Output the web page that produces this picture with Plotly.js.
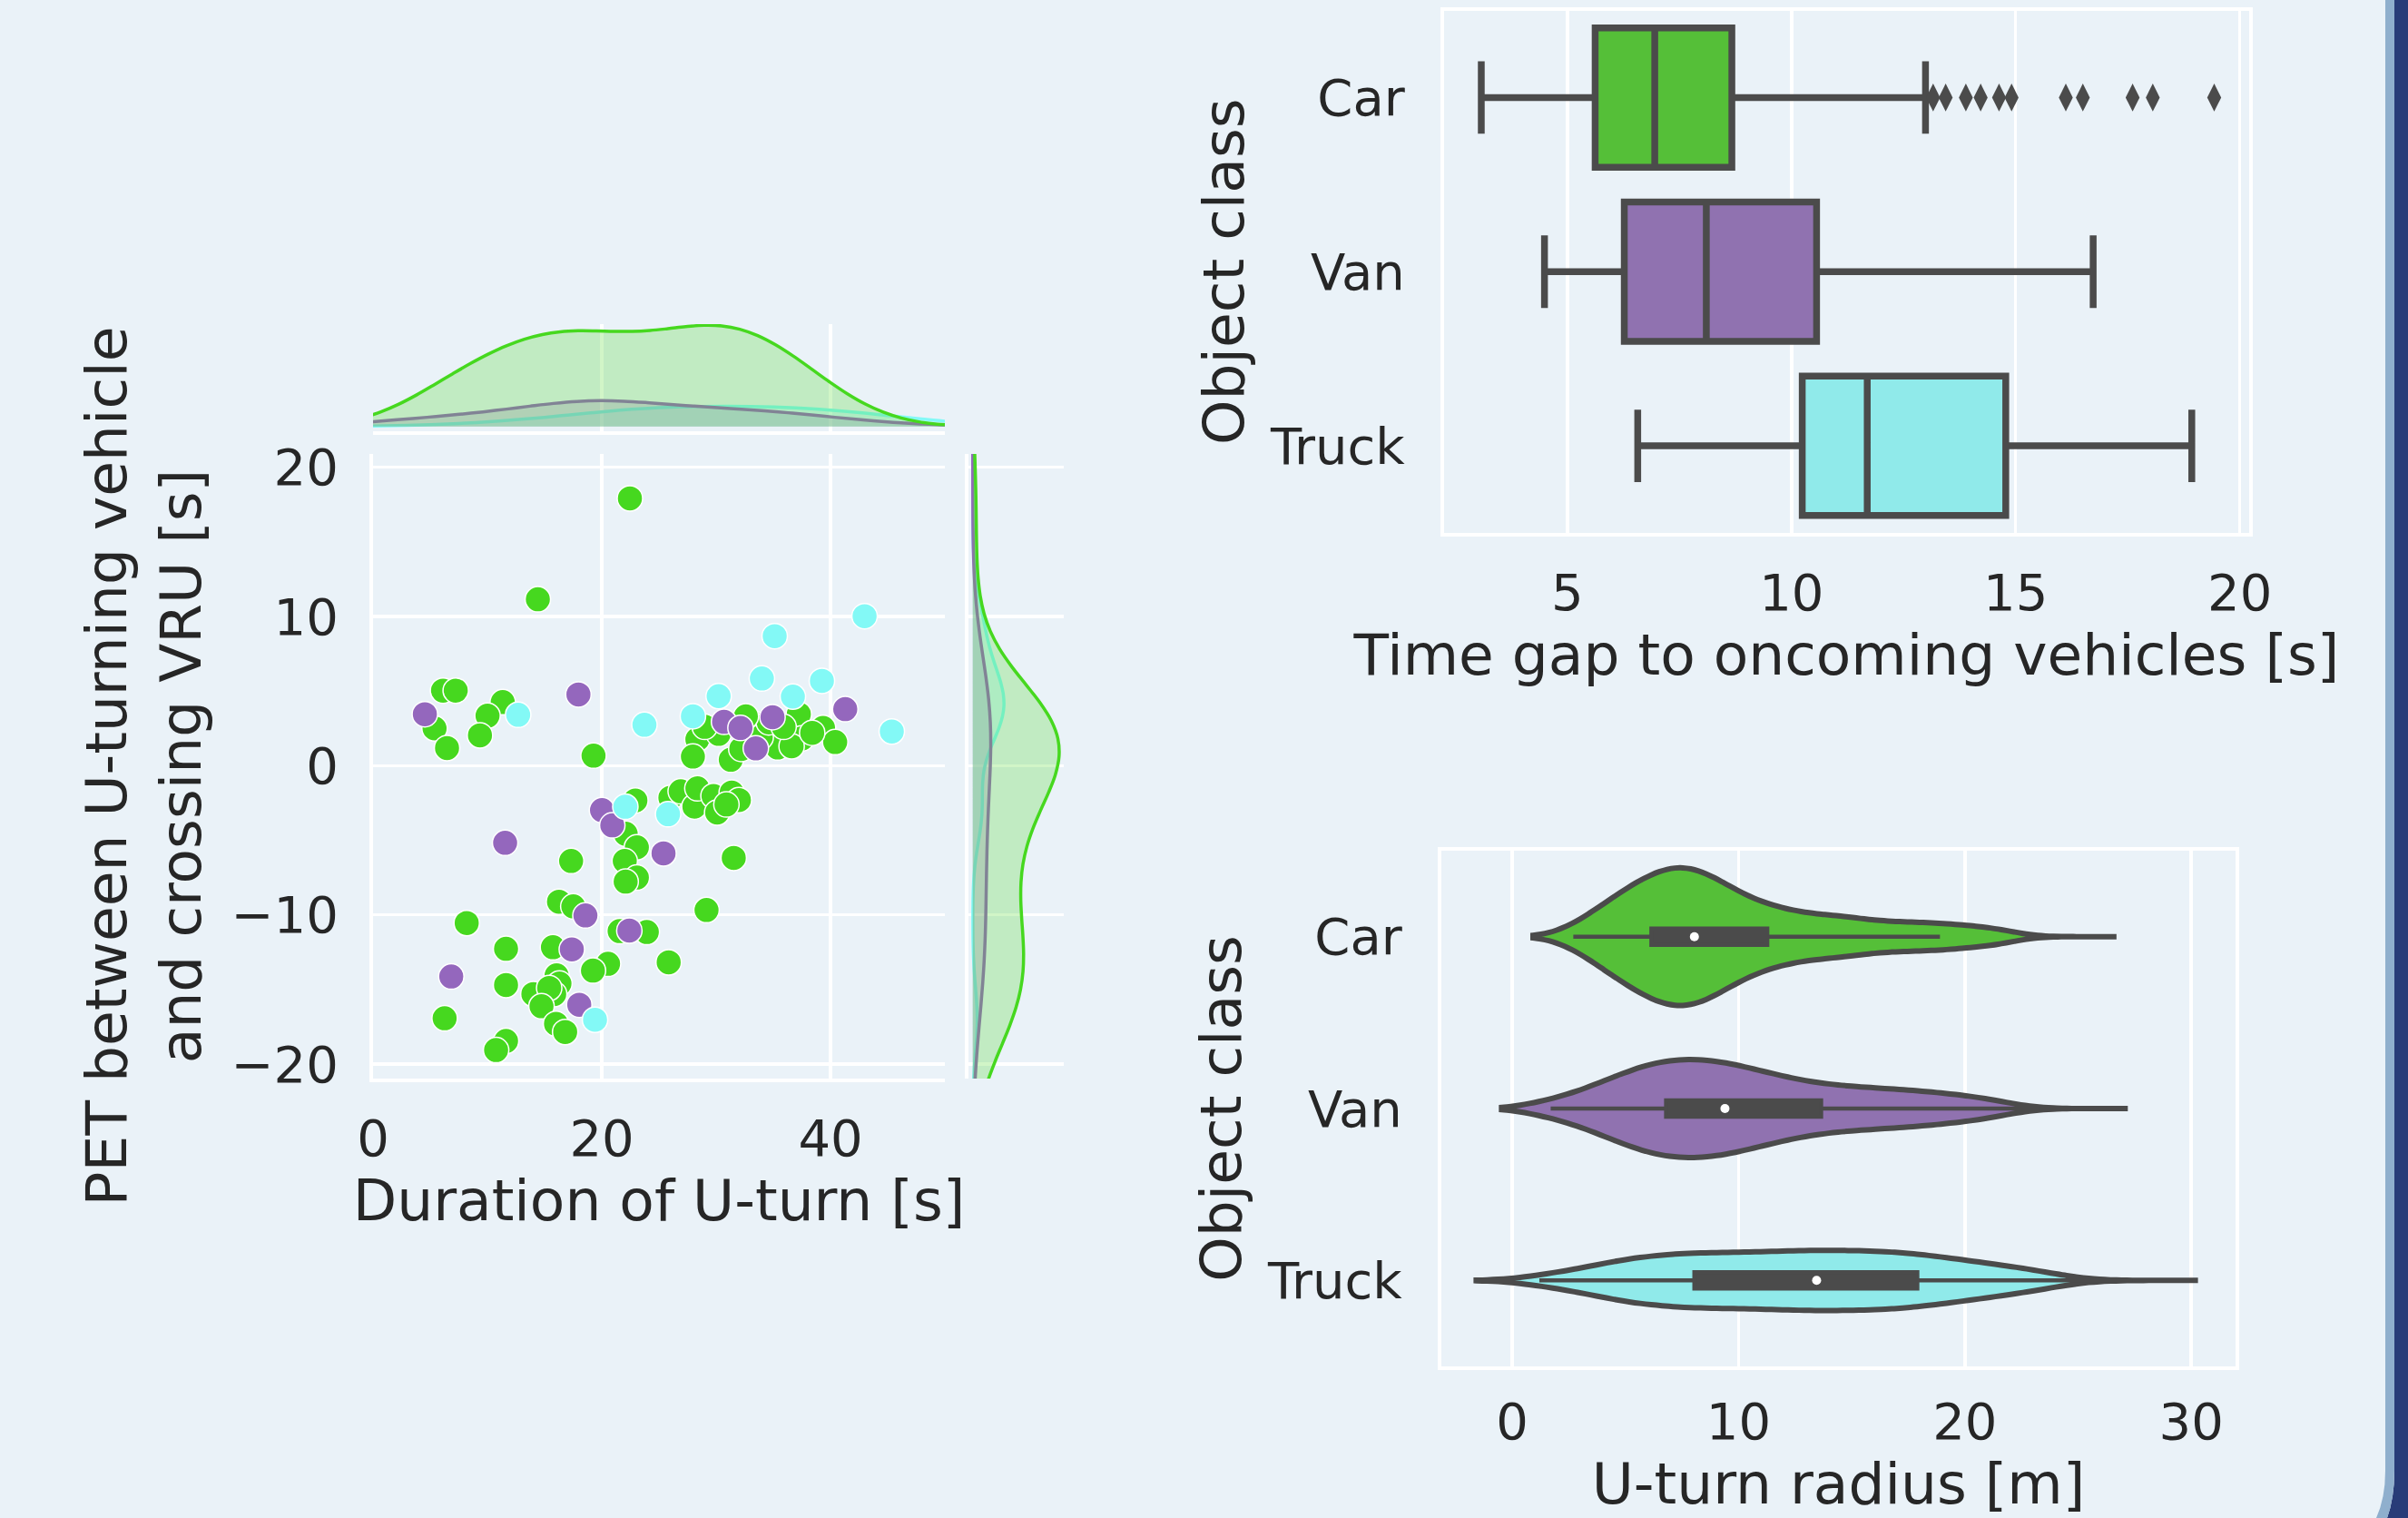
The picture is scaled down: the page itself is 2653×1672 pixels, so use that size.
<!DOCTYPE html>
<html>
<head>
<meta charset="utf-8">
<script src="https://cdn.plot.ly/plotly-3.0.1.min.js"></script>
<style>
html,body{margin:0;padding:0;background:#eaf2f8;}
#chart{width:2653px;height:1672px;}
</style>
</head>
<body>
<div id="chart"></div>
<script>
// ---------------- data ----------------
const classes = ['Car', 'Van', 'Truck'];

// Joint plot: Duration of U-turn [s] vs PET [s]
const carDuration = [22.46, 14.41, 6.12, 7.23, 5.38, 6.47, 11.34, 10.01, 9.35, 19.28, 28.36, 27.97, 31.28, 36.18, 37.23, 37.50, 39.35, 40.41, 35.38, 33.26, 30.22, 32.20, 26.0, 26.9, 28.1, 28.36, 29.77, 30.09, 31.36, 31.99, 31.54, 29.16, 25.85, 22.94, 22.09, 23.07, 22.01, 23.07, 22.09, 17.32, 16.26, 17.51, 8.19, 11.63, 15.73, 21.56, 23.94, 20.55, 19.23, 11.63, 14.02, 16.05, 16.3, 15.84, 15.4, 14.73, 16.0, 16.8, 6.26, 11.63, 10.76, 29.0, 33.9, 34.6, 30.9, 36.6, 32.6, 38.4, 35.9];
const carPET = [17.91, 11.15, 5.03, 5.03, 2.50, 1.18, 4.26, 3.35, 2.03, 0.67, 1.77, 0.61, 0.40, 2.13, 3.45, 1.83, 2.53, 1.58, 1.22, 2.84, 2.13, 1.12, -2.15, -1.72, -2.74, -1.52, -2.03, -3.14, -1.80, -2.30, -6.18, -9.67, -13.18, -2.33, -4.56, -5.47, -6.39, -7.50, -7.77, -6.39, -9.12, -9.43, -10.55, -12.27, -12.17, -11.09, -11.15, -13.28, -13.73, -14.70, -15.31, -14.05, -14.6, -15.31, -14.9, -16.12, -17.3, -17.85, -16.93, -18.45, -19.06, 2.6, 1.9, 2.9, -2.6, 1.3, 3.3, 2.2, 2.6];
const vanDuration = [4.53, 6.84, 11.55, 17.96, 18.03, 17.38, 18.57, 20.02, 20.92, 22.41, 25.4, 30.69, 32.13, 33.47, 34.93, 41.29];
const vanPET = [3.45, -14.13, -5.17, 4.77, -16.02, -12.31, -10.04, -2.98, -4.0, -11.05, -5.88, 2.94, 2.53, 1.16, 3.25, 3.79];
const truckDuration = [12.69, 19.41, 22.06, 23.73, 25.8, 27.97, 30.22, 34.0, 35.12, 36.71, 39.25, 42.98, 45.36];
const truckPET = [3.41, -17.03, -2.75, 2.74, -3.25, 3.31, 4.66, 5.84, 8.68, 4.63, 5.68, 10.02, 2.29];

// Box plot: Time gap to oncoming vehicles [s]
const gapLowerWhisker = [3.08, 4.49, 6.57];
const gapQ1 = [5.62, 6.27, 10.24];
const gapMedian = [6.95, 8.10, 11.69];
const gapQ3 = [8.67, 10.56, 14.78];
const gapUpperWhisker = [12.99, 16.73, 18.93];
const carGapOutliers = [13.16, 13.44, 13.89, 14.22, 14.63, 14.91, 16.12, 16.50, 17.61, 18.06, 19.43];

// Violin plot: U-turn radius [m] (estimated samples)
const carRadius = [2.77, 3.55, 4.01, 4.31, 4.61, 4.92, 5.16, 5.39, 5.62, 5.84, 6.04, 6.23, 6.43, 6.61, 6.77, 6.94, 7.11, 7.28, 7.45, 7.61, 7.78, 7.94, 8.11, 8.27, 8.46, 8.66, 8.87, 9.07, 9.27, 9.48, 9.76, 10.04, 10.33, 10.69, 11.05, 11.41, 11.85, 12.29, 12.79, 13.36, 13.93, 14.50, 15.07, 15.79, 16.62, 17.46, 18.3, 19.2, 20.2, 21.5];
const vanRadius = [1.66, 2.96, 3.65, 4.26, 4.66, 5.06, 5.47, 5.79, 6.10, 6.40, 6.71, 7.00, 7.28, 7.56, 7.84, 8.13, 8.42, 8.71, 9.00, 9.29, 9.59, 9.91, 10.27, 10.63, 10.99, 11.35, 11.81, 12.29, 12.78, 13.30, 13.93, 14.56, 15.19, 15.89, 16.61, 17.33, 18.15, 19.0, 20.0, 21.3];
const truckRadius = [1.68, 3.20, 4.14, 4.71, 5.29, 5.87, 6.43, 6.91, 7.38, 7.85, 8.33, 8.80, 9.27, 9.75, 10.22, 10.68, 11.15, 11.61, 12.07, 12.50, 12.94, 13.37, 13.80, 14.23, 14.66, 15.10, 15.55, 16.00, 16.44, 16.89, 17.34, 17.79, 18.27, 18.85, 19.43, 20.01, 20.70, 21.5, 22.4, 23.6];
const radiusSpanMin = [0.92, -0.47, -1.59];
const radiusSpanMax = [26.7, 27.2, 30.3];
const radiusQ1 = [6.15, 6.8, 8.05];
const radiusMedian = [8.05, 9.4, 13.45];
const radiusQ3 = [11.27, 13.65, 17.9];
const radiusLowerAdj = [2.7, 1.7, 1.2];
const radiusUpperAdj = [18.9, 23.3, 27.4];

// ---------------- styling ----------------
const W = 2653, H = 1672;
const fx = p => p / W;
const fy = p => 1 - p / H;
const FONT = 'DejaVu Sans';
const TXT = '#262626';
const BG = '#eaf2f8';
const DARK = '#4b4b4b';
const pointColors = ['#46d81f', '#9467bd', '#83f9f6'];
const boxColors = ['#55bf38', '#9072b0', '#90eaea'];
const kdeFills = ['rgba(70,216,31,0.25)', 'rgba(148,103,189,0.25)', 'rgba(131,249,246,0.25)'];
const tickFont = {family: FONT, size: 56, color: TXT};
const titleFont = {family: FONT, size: 63, color: TXT};

const durations = [carDuration, vanDuration, truckDuration];
const pets = [carPET, vanPET, truckPET];
const radii = [carRadius, vanRadius, truckRadius];
const bws = [1.05, 1.25, 1.45];
const violinWidths = [0.80, 0.57, 0.35];
const durationBandwidth = [4.8, 0, 0];   // 0 = library default

const traces = [];

// scatter points
[0, 1, 2].forEach(i => {
  traces.push({
    type: 'scatter', mode: 'markers', x: durations[i], y: pets[i],
    xaxis: 'x', yaxis: 'y', name: classes[i],
    marker: {color: pointColors[i], size: 28, line: {color: 'white', width: 1.5}},
    showlegend: false, hoverinfo: 'skip'
  });
});

// marginal KDEs (green drawn last so its fill covers the others)
[2, 1, 0].forEach(i => {
  const top = {
    type: 'violin', orientation: 'h', x: durations[i], y0: 0,
    xaxis: 'x2', yaxis: 'y2', side: 'positive', scalegroup: 'mx', scalemode: 'count',
    points: false, box: {visible: false}, meanline: {visible: false},
    line: {color: pointColors[i], width: 3.5}, fillcolor: kdeFills[i],
    spanmode: 'manual', span: [-15, 65], showlegend: false, hoverinfo: 'skip'
  };
  if (durationBandwidth[i]) top.bandwidth = durationBandwidth[i];
  traces.push(top);
  traces.push({
    type: 'violin', orientation: 'v', y: pets[i], x0: 0,
    xaxis: 'x3', yaxis: 'y3', side: 'positive', scalegroup: 'my', scalemode: 'count',
    points: false, box: {visible: false}, meanline: {visible: false},
    line: {color: pointColors[i], width: 3.5}, fillcolor: kdeFills[i],
    spanmode: 'manual', span: [-45, 45], showlegend: false, hoverinfo: 'skip'
  });
});

// box plot of time gaps
[0, 1, 2].forEach(i => {
  traces.push({
    type: 'box', orientation: 'h', y: [classes[i]],
    q1: [gapQ1[i]], median: [gapMedian[i]], q3: [gapQ3[i]],
    lowerfence: [gapLowerWhisker[i]], upperfence: [gapUpperWhisker[i]],
    xaxis: 'x4', yaxis: 'y4', width: 0.8, whiskerwidth: 0.52,
    fillcolor: boxColors[i], line: {color: DARK, width: 7.5},
    boxpoints: false, showlegend: false, hoverinfo: 'skip'
  });
});
traces.push({
  type: 'scatter', mode: 'markers', x: carGapOutliers, y: carGapOutliers.map(() => 'Car'),
  xaxis: 'x4', yaxis: 'y4',
  marker: {symbol: 'diamond-tall', color: DARK, size: 22, line: {width: 0}},
  showlegend: false, hoverinfo: 'skip'
});

// violin plot of U-turn radius
[0, 1, 2].forEach(i => {
  traces.push({
    type: 'violin', orientation: 'h', x: radii[i], y: radii[i].map(() => classes[i]),
    xaxis: 'x5', yaxis: 'y5', side: 'both', width: violinWidths[i],
    points: false, box: {visible: false}, meanline: {visible: false},
    bandwidth: bws[i], spanmode: 'manual', span: [radiusSpanMin[i], radiusSpanMax[i]],
    line: {color: DARK, width: 6}, fillcolor: boxColors[i],
    showlegend: false, hoverinfo: 'skip'
  });
});
traces.push({
  type: 'box', orientation: 'h', y: classes,
  q1: radiusQ1, median: radiusMedian, q3: radiusQ3,
  lowerfence: radiusLowerAdj, upperfence: radiusUpperAdj,
  xaxis: 'x5', yaxis: 'y5', width: 0.095, whiskerwidth: 0,
  fillcolor: DARK, line: {color: DARK, width: 4.5},
  boxpoints: false, showlegend: false, hoverinfo: 'skip'
});
traces.push({
  type: 'scatter', mode: 'markers', x: radiusMedian, y: classes,
  xaxis: 'x5', yaxis: 'y5',
  marker: {color: 'white', size: 10, line: {width: 0}},
  showlegend: false, hoverinfo: 'skip'
});

// ---------------- layout ----------------
function ax(extra) {
  return Object.assign({
    showgrid: true, gridcolor: 'white', gridwidth: 3.5, zeroline: false,
    showline: false, ticks: '', tickfont: tickFont, automargin: false, fixedrange: true
  }, extra);
}

const mainY = [fy(1188), fy(500)];
const mainYRange = [-20.97, 20.89];

const layout = {
  width: W, height: H,
  margin: {l: 0, r: 0, t: 0, b: 0, pad: 0},
  paper_bgcolor: BG, plot_bgcolor: BG,
  showlegend: false, hovermode: false,
  violingap: 0, violingroupgap: 0, violinmode: 'overlay', boxmode: 'overlay',
  font: {family: FONT, color: TXT},
  xaxis: ax({domain: [fx(411), fx(1041)], range: [0, 50], tick0: 0, dtick: 20, anchor: 'y',
    showline: true, linecolor: 'white', linewidth: 4, ticklabelstandoff: 14,
    title: {text: 'Duration of U-turn [s]', font: titleFont, standoff: 14}}),
  yaxis: ax({domain: mainY, range: mainYRange, tick0: 0, dtick: 10, anchor: 'x',
    showline: true, linecolor: 'white', linewidth: 4, ticklabelstandoff: 23,
    title: {text: 'PET between U-turning vehicle<br>and crossing VRU [s]', font: titleFont, standoff: 14}}),
  xaxis2: ax({domain: [fx(411), fx(1041)], range: [0, 50], tick0: 0, dtick: 20, anchor: 'y2',
    showticklabels: false, showline: true, linecolor: 'white', linewidth: 4}),
  yaxis2: ax({domain: [fy(475), fy(357)], range: [-0.022, 0.462], anchor: 'x2',
    showgrid: false, showticklabels: false}),
  xaxis3: ax({domain: [fx(1067), fx(1172)], range: [-0.013, 0.275], anchor: 'y3',
    showgrid: false, showticklabels: false}),
  yaxis3: ax({domain: mainY, range: mainYRange, tick0: 0, dtick: 10, anchor: 'x3',
    showticklabels: false, showline: true, linecolor: 'white', linewidth: 4}),
  xaxis4: ax({domain: [fx(1591), fx(2478)], range: [2.25, 20.21], tick0: 0, dtick: 5, anchor: 'y4',
    showline: true, mirror: true, linecolor: 'white', linewidth: 4, ticklabelstandoff: 14,
    title: {text: 'Time gap to oncoming vehicles [s]', font: titleFont, standoff: 16}}),
  yaxis4: ax({domain: [fy(587), fy(11.5)], type: 'category', categoryorder: 'array', categoryarray: classes,
    range: [2.5, -0.5], anchor: 'x4', showgrid: false,
    showline: true, mirror: true, linecolor: 'white', linewidth: 4, ticklabelstandoff: 28,
    title: {text: 'Object class', font: titleFont, standoff: 9}}),
  xaxis5: ax({domain: [fx(1588), fx(2463)], range: [-3.13, 31.96], tick0: 0, dtick: 10, anchor: 'y5',
    showline: true, mirror: true, linecolor: 'white', linewidth: 4, ticklabelstandoff: 9,
    title: {text: 'U-turn radius [m]', font: titleFont, standoff: 15}}),
  yaxis5: ax({domain: [fy(1505), fy(937)], type: 'category', categoryorder: 'array', categoryarray: classes,
    range: [2.5, -0.5], anchor: 'x5', showgrid: false,
    showline: true, mirror: true, linecolor: 'white', linewidth: 4, ticklabelstandoff: 28,
    title: {text: 'Object class', font: titleFont, standoff: 9}}),
  shapes: [
    {type: 'path', xref: 'paper', yref: 'paper', layer: 'above', line: {width: 0}, fillcolor: '#283c78',
     path: `M ${fx(2638)},${fy(0)} L ${fx(2653)},${fy(0)} L ${fx(2653)},${fy(1672)} L ${fx(2630)},${fy(1672)} Q ${fx(2638)},${fy(1650)} ${fx(2638)},${fy(1620)} Z`},
    {type: 'path', xref: 'paper', yref: 'paper', layer: 'above', line: {width: 0}, fillcolor: '#8fafcd',
     path: `M ${fx(2628)},${fy(0)} L ${fx(2638)},${fy(0)} L ${fx(2638)},${fy(1620)} Q ${fx(2638)},${fy(1650)} ${fx(2630)},${fy(1672)} L ${fx(2618)},${fy(1672)} Q ${fx(2628)},${fy(1650)} ${fx(2628)},${fy(1620)} Z`}
  ]
};

Plotly.newPlot('chart', traces, layout, {staticPlot: true, displayModeBar: false});
</script>
</body>
</html>
